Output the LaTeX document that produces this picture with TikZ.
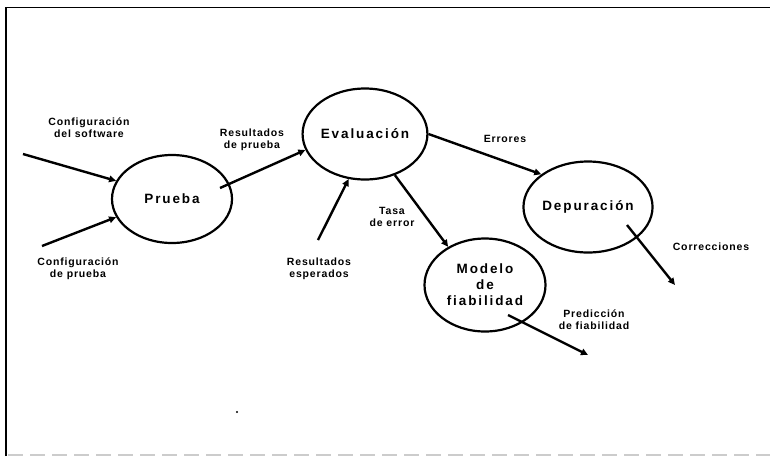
\documentclass[tikz,border=0pt]{standalone}
\usepackage{fontspec}
\setmainfont{Liberation Sans}
\newfontfamily\mainlbl[LetterSpace=14]{Liberation Sans}
\newfontfamily\smalllbl[LetterSpace=8]{Liberation Sans}
\usetikzlibrary{shapes.geometric,arrows.meta}
\begin{document}
\begin{tikzpicture}[x=1pt,y=-1pt,
  proc/.style={ellipse,draw,line width=2.2pt,inner sep=0pt,align=center,
    font=\mainlbl\bfseries\fontsize{13.5}{16}\selectfont},
  flow/.style={line width=2.4pt,-{Triangle[length=7pt,width=6.5pt]}},
  lbl/.style={align=center,inner sep=0pt,font=\smalllbl\bfseries\fontsize{10.5}{12}\selectfont}]
\useasboundingbox (0,0) rectangle (770,456);
% frame
\draw[line width=1.6pt] (6,456) -- (6,7.5) -- (770,7.5);
\draw[black!20,line width=1.2pt,dash pattern=on 15pt off 7pt] (8,455) -- (770,455);
% processes
\node[proc,minimum width=120pt,minimum height=88pt] (prueba) at (172,199) {Prueba};
\node[proc,minimum width=117pt,minimum height=91pt] (eval) at (365,134) {Evaluaci\'on};
\node[proc,minimum width=121pt,minimum height=91pt] (dep) at (588,207) {Depuraci\'on};
\node[proc,minimum width=121pt,minimum height=93pt] (mod) at (485,285) {Modelo\\de\\fiabilidad};
% free ends of the flows
\coordinate (cs) at (23,154);
\coordinate (cp) at (42,246);
\coordinate (rp) at (220,188);
\coordinate (re) at (318,240);
\coordinate (c0) at (627,225);
\coordinate (c1) at (675,285);
\coordinate (p0) at (508,315);
\coordinate (p1) at (588,355);
% flows
\draw[flow] (cs) -- (prueba.162);
\draw[flow] (cp) -- (prueba.198);
\draw[flow] (rp) -- (eval.195);
\draw[flow] (re) -- (eval.250);
\draw[flow] (eval.306) -- (mod.134);
\draw[flow] (eval.east) -- (dep.145);
\draw[flow] (c0) -- (c1);
\draw[flow] (p0) -- (p1);
% labels
\node[lbl] (l1) at (89,128) {Configuraci\'on\\del software};
\node[lbl] (l2) at (78,269) {Configuraci\'on\\de prueba};
\node[lbl] (l3) at (252,140) {Resultados\\de prueba};
\node[lbl] (l4) at (319,269) {Resultados\\esperados};
\node[lbl] (l5) at (392,217) {Tasa\\de error};
\node[lbl] (l6) at (505,139) {Errores};
\node[lbl] (l7) at (711,247) {Correcciones};
\node[lbl] (l8) at (594,320) {Predicci\'on\\de fiabilidad};
\fill (237,412) circle (1.2pt);
\end{tikzpicture}
\end{document}
